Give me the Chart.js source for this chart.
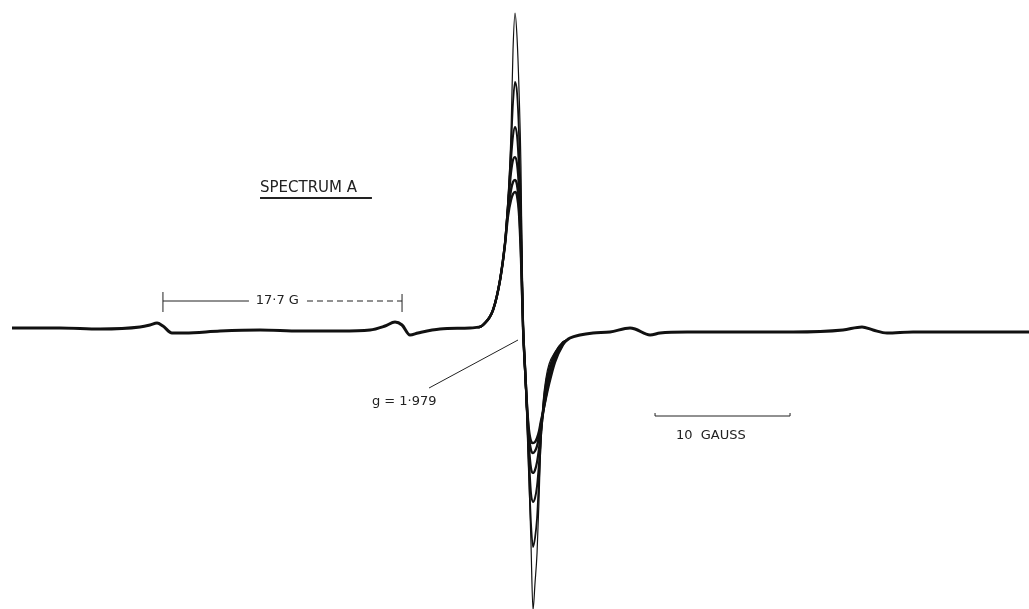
<!DOCTYPE html>
<html>
<head>
<meta charset="utf-8">
<script src="https://cdn.jsdelivr.net/npm/chart.js@4/dist/chart.umd.min.js"></script>
<style>
  html, body { margin: 0; padding: 0; background: #fff; }
  #wrap { width: 1029px; height: 609px; position: relative; }
</style>
</head>
<body>
<div id="wrap"><canvas id="myChart"></canvas></div>
<script>
// field in gauss, relative to the g = 1.979 crossing; intensity in arbitrary units
const leftField = [-37.85, -34.30, -31.33, -28.37, -27.63, -27.11, -26.67, -26.00, -25.04, -22.44, -19.48, -16.52, -13.56, -11.33, -10.22, -9.48, -8.96, -8.37, -7.78, -6.15, -3.93, -3.19]
const leftSignal = [0, 0, -1, 1, 3, 5, 2, -5, -5, -3, -2, -3, -3, -2, 2, 6, 3, -7, -5, -1, 0, 1]

const rightField = [3.26, 3.48, 4.22, 5.19, 6.44, 7.93, 8.30, 9.41, 10.15, 12.15, 15.11, 20.00, 23.70, 25.11, 25.93, 26.96, 28.89, 32.37, 37.48]
const rightSignal = [-12, -10, -7, -5, -4, 0, -1, -7, -5, -4, -4, -4, -2, 1, -2, -5, -4, -4, -4]

// central line, six recordings at different power
const centerField = [-3.19, -2.96, -2.22, -1.70, -1.33, -1.11, -0.89, -0.74, -0.59, -0.44, -0.30, -0.15, 0.00, 0.15, 0.30, 0.44, 0.59, 0.74, 0.89, 1.04, 1.19, 1.33, 1.48, 1.70, 1.93, 2.37, 2.96, 3.26]
const trace1 = [1, 3, 18, 48, 85, 125, 195, 278, 315, 290, 240, 161, -5, -50, -95, -150, -215, -282, -255, -225, -170, -110, -75, -50, -36, -24, -14, -12]
const trace2 = [1, 3, 18, 48, 85, 125, 180, 225, 246, 235, 195, 120, 5, -40, -90, -145, -195, -219, -210, -190, -150, -110, -80, -55, -40, -25, -14, -12]
const trace3 = [1, 3, 18, 48, 85, 125, 168, 192, 201, 192, 160, 100, 4, -40, -85, -130, -165, -174, -170, -158, -135, -108, -84, -60, -44, -27, -15, -12]
const trace4 = [1, 3, 18, 48, 85, 122, 155, 168, 171, 164, 140, 88, 3, -40, -82, -118, -140, -145, -142, -134, -120, -103, -86, -64, -48, -29, -15, -12]
const trace5 = [1, 3, 18, 48, 85, 118, 138, 146, 148, 143, 124, 78, 2, -40, -80, -108, -122, -125, -123, -118, -108, -96, -85, -68, -52, -31, -16, -12]
const trace6 = [1, 3, 18, 48, 84, 112, 128, 134, 136, 132, 115, 70, 2, -40, -78, -102, -113, -115, -114, -110, -103, -93, -84, -70, -56, -34, -17, -12]

function points(xs, ys) {
    return xs.map((x, i) => ({ x: x, y: ys[i] }))
}

function lineSet(xs, ys, width) {
    return {
        data: points(xs, ys),
        borderColor: '#111',
        borderWidth: width,
        pointRadius: 0,
        cubicInterpolationMode: 'monotone',
        fill: false
    }
}

// labels and scale bars, placed in data units
const notes = {
    id: 'notes',
    afterDatasetsDraw(chart) {
        const c = chart.ctx
        const x = chart.scales.x
        const y = chart.scales.y
        const px = v => x.getPixelForValue(v)
        const py = v => y.getPixelForValue(v)
        c.save()
        c.fillStyle = '#222'
        c.strokeStyle = '#222'

        // SPECTRUM A
        c.font = '15px "DejaVu Sans"'
        c.textBaseline = 'alphabetic'
        c.fillText('SPECTRUM A', px(-19.48), py(136))
        c.lineWidth = 2
        c.beginPath()
        c.moveTo(px(-19.48), py(130))
        c.lineTo(px(-11.19), py(130))
        c.stroke()

        // 17.7 G between the satellites
        c.textBaseline = 'middle'
        c.font = '13px "DejaVu Sans"'
        c.lineWidth = 1
        c.beginPath()
        c.moveTo(px(-26.67), py(36)); c.lineTo(px(-26.67), py(16))
        c.moveTo(px(-8.96), py(34)); c.lineTo(px(-8.96), py(16))
        c.moveTo(px(-26.67), py(27)); c.lineTo(px(-20.3), py(27))
        c.stroke()
        c.textAlign = 'center'
        c.fillText('17·7 G', px(-18.2), py(27))
        c.setLineDash([6, 4])
        c.beginPath()
        c.moveTo(px(-16.0), py(27)); c.lineTo(px(-8.96), py(27))
        c.stroke()
        c.setLineDash([])

        // g value leader
        c.textAlign = 'left'
        c.fillText('g = 1·979', px(-11.19), py(-74))
        c.beginPath()
        c.moveTo(px(-6.96), py(-60))
        c.lineTo(px(-0.37), py(-12))
        c.stroke()

        // 10 gauss bar
        c.beginPath()
        c.moveTo(px(9.78), py(-85)); c.lineTo(px(9.78), py(-88))
        c.lineTo(px(19.78), py(-88)); c.lineTo(px(19.78), py(-85))
        c.stroke()
        c.fillText('10  GAUSS', px(11.33), py(-108))
        c.restore()
    }
}

const ctx = document.getElementById('myChart')

new Chart(ctx, {
    type: 'line',
    data: {
        datasets: [
            lineSet(leftField, leftSignal, 3),
            lineSet(rightField, rightSignal, 3),
            lineSet(centerField, trace6, 2.4),
            lineSet(centerField, trace5, 2.4),
            lineSet(centerField, trace4, 2.2),
            lineSet(centerField, trace3, 2),
            lineSet(centerField, trace2, 1.8),
            lineSet(centerField, trace1, 1.2)
        ]
    },
    plugins: [notes],
    options: {
        responsive: true,
        maintainAspectRatio: false,
        animation: false,
        layout: { padding: 0 },
        plugins: {
            legend: { display: false },
            tooltip: { enabled: false }
        },
        scales: {
            x: { type: 'linear', min: -38.74, max: 37.48, display: false },
            y: { min: -281, max: 328, display: false }
        }
    }
})
</script>
</body>
</html>
